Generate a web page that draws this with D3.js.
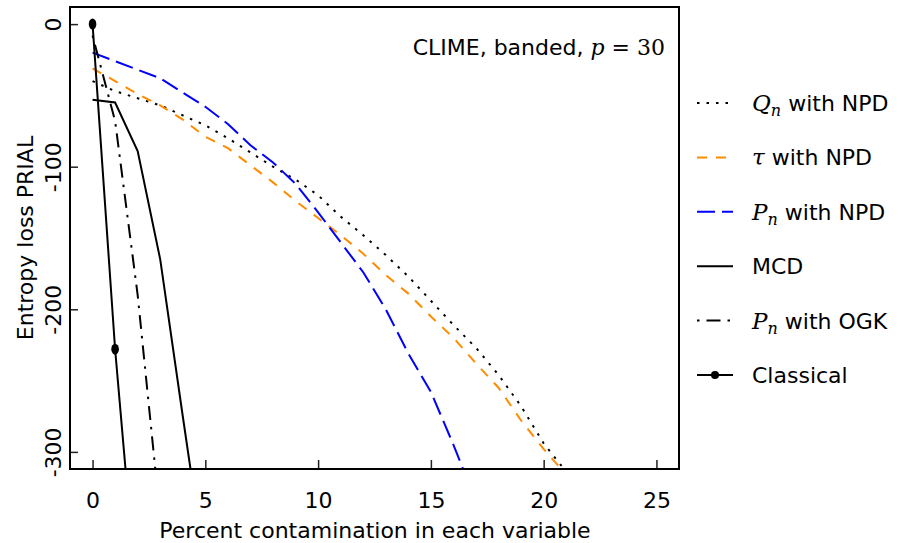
<!DOCTYPE html>
<html><head><meta charset="utf-8">
<script src="https://cdn.jsdelivr.net/npm/d3@7"></script>
<style>body{margin:0;background:#fff}svg{display:block}</style>
</head><body>
<svg id="chart" width="906" height="543"></svg>
<script>
// ---- data ----
const xTicks = [0, 5, 10, 15, 20, 25];
const yTicks = [0, -100, -200, -300];
const qnNPD   = [[0,-40],[1,-47],[2,-52],[3,-57],[4,-64],[5,-71],[6,-80],[7,-90],[8,-100],[9,-109],[10,-120],[11,-135],[12,-148],[13,-162],[14,-177],[15,-194],[16,-211],[17,-227],[18,-246],[19,-268],[20,-294],[21,-314]];
const tauNPD  = [[0,-31],[1,-40],[2,-49],[3,-57],[4,-67],[5,-79],[6,-87],[7,-99],[8,-111],[9,-124],[10,-136],[11,-148],[12,-161],[13,-176],[14,-189],[15,-205],[16,-220],[17,-238],[18,-255],[19,-278],[20,-298],[21,-316]];
const pnNPD   = [[0,-20],[1,-26],[2,-32],[3,-38],[4,-48],[5,-58],[6,-70],[7,-85],[8,-97],[9,-112],[10,-132],[11,-153],[12,-174],[13,-200],[14,-231],[15,-258],[16,-295],[17,-335]];
const mcd     = [[0,-53],[1,-55],[2,-89],[3,-165],[4,-275],[5,-383]];
const pnOGK   = [[0,-8],[1,-68],[2,-190],[3,-346]];
const classical = [[0,0],[1,-228],[2,-410]];
const legendLabels = [
  {m:"Q", sub:"n", rest:" with NPD"},
  {m:"τ", sub:"", rest:" with NPD"},
  {m:"P", sub:"n", rest:" with NPD"},
  {m:"", sub:"", rest:"MCD"},
  {m:"P", sub:"n", rest:" with OGK"},
  {m:"", sub:"", rest:"Classical"}
];

const series = [
  {data: qnNPD, color:"#000", dash:"2.5,7"},
  {data: tauNPD, color:"#ff8c00", dash:"10,9"},
  {data: pnNPD, color:"#0000ff", dash:"18,7"},
  {data: mcd, color:"#000", dash:null},
  {data: pnOGK, color:"#000", dash:"2.5,7,14,7"},
  {data: classical, color:"#000", dash:null, marker:true}
];

const svg = d3.select("#chart");
const L = 70, R = 679, T = 7, B = 469;
const x = d3.scaleLinear().domain([-1, 26]).range([L, R]);
const y = d3.scaleLinear().domain([-312, 12]).range([B, T]);
const SANS = "'DejaVu Sans', sans-serif";
const SERIF = "'DejaVu Serif', serif";
const FS = 22;

svg.append("defs").append("clipPath").attr("id","clip")
  .append("rect").attr("x",L).attr("y",T).attr("width",R-L).attr("height",B-T);

const line = d3.line().x(d=>x(d[0])).y(d=>y(d[1]));
const g = svg.append("g").attr("clip-path","url(#clip)");
series.forEach(s=>{
  g.append("path").attr("d", line(s.data)).attr("fill","none")
    .attr("stroke", s.color).attr("stroke-width", 2)
    .attr("stroke-dasharray", s.dash).attr("stroke-linecap","butt");
  if (s.marker) {
    g.selectAll(null).data(s.data).enter().append("ellipse")
      .attr("cx", d=>x(d[0])).attr("cy", d=>y(d[1])).attr("rx",3.8).attr("ry",5.5).attr("fill","#000");
  }
});

// axes (ticks pointing inward)
const xAxis = d3.axisBottom(x).tickValues(xTicks).tickSize(-9).tickFormat(d3.format("d"));
const gx = svg.append("g").attr("transform",`translate(0,${B})`).call(xAxis);
gx.select(".domain").remove();
gx.selectAll(".tick line").attr("stroke","#222").attr("stroke-width",1.5);
gx.selectAll(".tick text").attr("font-family",SANS).attr("font-size",FS).attr("fill","#000")
  .attr("y", 39).attr("dy", 0);

const yAxis = d3.axisLeft(y).tickValues(yTicks).tickSize(-8).tickFormat(d=>String(d));
const gy = svg.append("g").attr("transform",`translate(${L},0)`).call(yAxis);
gy.select(".domain").remove();
gy.selectAll(".tick line").attr("stroke","#222").attr("stroke-width",1.5);
gy.selectAll(".tick text").attr("font-family",SANS).attr("font-size",FS).attr("fill","#000")
  .attr("x",0).attr("dy",0).attr("text-anchor","middle")
  .attr("transform","translate(-9,0) rotate(-90)");

// box
svg.append("rect").attr("x",L).attr("y",T).attr("width",R-L).attr("height",B-T)
  .attr("fill","none").attr("stroke","#000").attr("stroke-width",2);

// axis titles
svg.append("text").attr("x", 375).attr("y", 538).attr("text-anchor","middle")
  .attr("font-family",SANS).attr("font-size",FS).text("Percent contamination in each variable");
svg.append("text").attr("transform",`translate(33,${(T+B)/2}) rotate(-90)`).attr("text-anchor","middle")
  .attr("font-family",SANS).attr("font-size",FS).text("Entropy loss PRIAL");

// in-plot title
const tt = svg.append("text").attr("x", 665).attr("y", 55).attr("text-anchor","end")
  .attr("font-family",SANS).attr("font-size",FS);
tt.append("tspan").text("CLIME, banded, ");
tt.append("tspan").attr("font-family",SERIF).attr("font-style","italic").text("p");
tt.append("tspan").attr("font-family",SERIF).text(" = 30");

// legend
const lg = svg.append("g");
legendLabels.forEach((lab,i)=>{
  const s = series[i];
  const ly = 103 + 54.4*i;
  lg.append("line").attr("x1",697).attr("x2",733).attr("y1",ly).attr("y2",ly)
    .attr("stroke",s.color).attr("stroke-width",2).attr("stroke-dasharray", s.dash);
  if (s.marker) lg.append("circle").attr("cx",715).attr("cy",ly).attr("r",4).attr("fill","#000");
  const t = lg.append("text").attr("x",752).attr("y",ly+8).attr("font-family",SANS).attr("font-size",FS);
  if (lab.m) t.append("tspan").attr("font-family",SERIF).attr("font-style","italic").attr("font-size",23).text(lab.m);
  if (lab.sub) t.append("tspan").attr("font-family",SERIF).attr("font-style","italic")
      .attr("font-size",16).attr("dy",5).text(lab.sub);
  t.append("tspan").attr("dy", lab.sub ? -5 : 0).text(lab.rest);
});
</script>
</body></html>
